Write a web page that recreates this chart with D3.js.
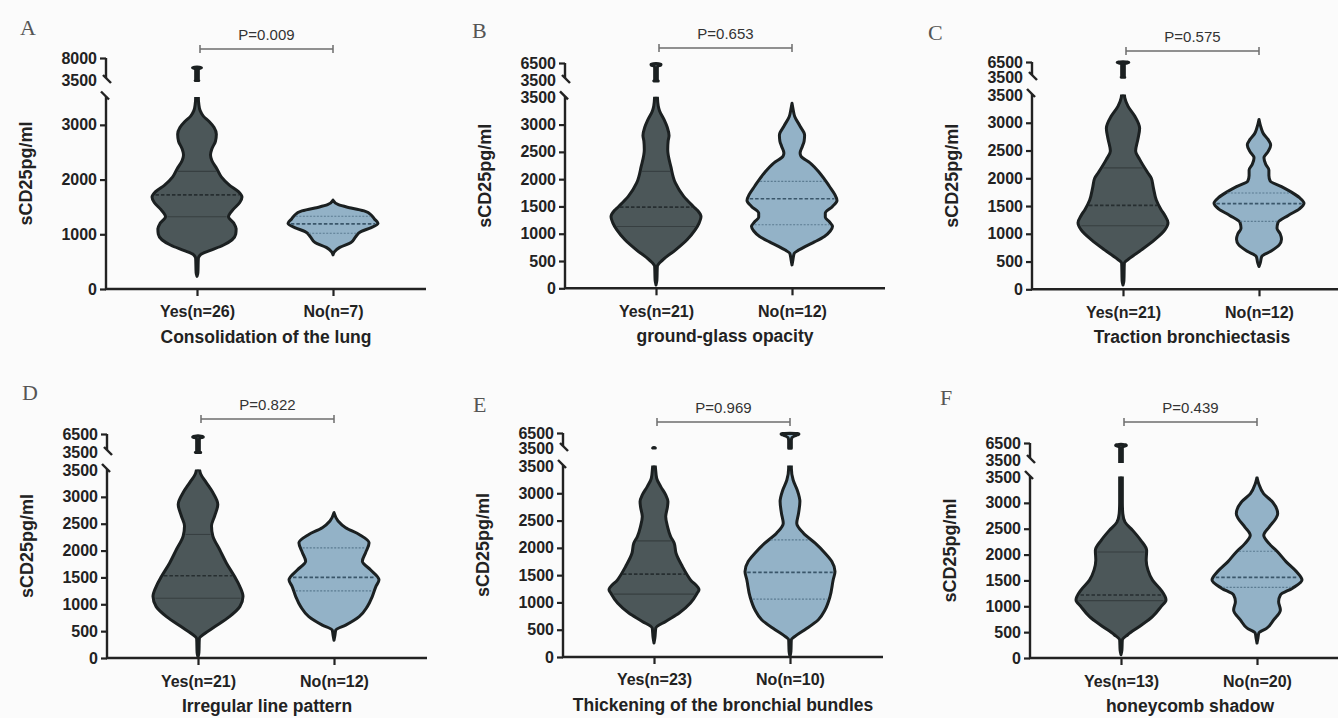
<!DOCTYPE html>
<html>
<head>
<meta charset="utf-8">
<script src="https://cdn.jsdelivr.net/npm/d3@7"></script>
<style>
  body { margin: 0; background: #fbfbfb; }
  svg { display: block; }
</style>
</head>
<body>
<svg id="chart" width="1338" height="718"></svg>
<script>
// ---- data ----
const panelLetters = ["A", "B", "C", "D", "E", "F"];
const axisTitles = ["Consolidation of the lung", "ground-glass opacity", "Traction bronchiectasis",
                    "Irregular line pattern", "Thickening of the bronchial bundles", "honeycomb shadow"];
const groupLabels = [["Yes(n=26)", "No(n=7)"], ["Yes(n=21)", "No(n=12)"], ["Yes(n=21)", "No(n=12)"],
                     ["Yes(n=21)", "No(n=12)"], ["Yes(n=23)", "No(n=10)"], ["Yes(n=13)", "No(n=20)"]];
const pLabels = ["P=0.009", "P=0.653", "P=0.575", "P=0.822", "P=0.969", "P=0.439"];
const breakValue = 3500;
const upperTops = [8000, 6500, 6500, 6500, 6500, 6500];
const lowerTicks = [
  [0, 1000, 2000, 3000],
  [0, 500, 1000, 1500, 2000, 2500, 3000, 3500],
  [0, 500, 1000, 1500, 2000, 2500, 3000, 3500],
  [0, 500, 1000, 1500, 2000, 2500, 3000, 3500],
  [0, 500, 1000, 1500, 2000, 2500, 3000, 3500],
  [0, 500, 1000, 1500, 2000, 2500, 3000, 3500]
];

// violin outlines: [sCD25 value, relative density width 0..1]
const yesProfiles = [
  [[230,0],[300,0.02],[560,0.03],[630,0.08],[700,0.28],[800,0.58],[900,0.78],[1000,0.86],[1100,0.87],[1200,0.82],[1320,0.7],[1450,0.8],[1580,0.95],[1680,1.0],[1780,0.92],[1900,0.72],[2050,0.54],[2200,0.44],[2350,0.33],[2450,0.3],[2560,0.33],[2700,0.41],[2830,0.43],[2950,0.38],[3060,0.27],[3160,0.14],[3260,0.07],[3380,0.04],[3500,0.03],[5600,0.03],[5800,0.04],[5900,0.07],[6000,0.1],[6080,0.08],[6150,0]],
  [[61,0],[150,0.02],[400,0.03],[520,0.15],[700,0.43],[890,0.69],[1070,0.87],[1200,0.96],[1310,1.0],[1420,0.93],[1500,0.83],[1680,0.62],[1930,0.43],[2230,0.33],[2540,0.26],[2700,0.27],[2800,0.29],[2950,0.25],[3090,0.18],[3250,0.08],[3340,0.05],[3520,0.03],[5700,0.03],[6000,0.06],[6150,0.11],[6300,0.11],[6400,0]],
  [[78,0],[150,0.02],[470,0.03],[560,0.15],[710,0.41],[890,0.7],[1070,0.93],[1200,1.0],[1330,0.93],[1430,0.85],[1610,0.74],[1850,0.67],[2000,0.63],[2100,0.55],[2340,0.37],[2490,0.28],[2700,0.33],[2900,0.37],[3120,0.26],[3300,0.11],[3450,0.04],[3520,0.03],[6000,0.03],[6200,0.05],[6300,0.09],[6400,0.13],[6480,0.1],[6530,0]],
  [[19,0],[100,0.02],[360,0.03],[456,0.15],[580,0.37],[770,0.7],[956,0.93],[1144,1.0],[1330,0.93],[1520,0.81],[1770,0.63],[2020,0.48],[2270,0.33],[2456,0.3],[2644,0.37],[2860,0.44],[3080,0.33],[3270,0.18],[3425,0.06],[3520,0.03],[5600,0.03],[5750,0.04],[5880,0.07],[6000,0.12],[6120,0.1],[6220,0]],
  [[256,0],[350,0.02],[530,0.04],[652,0.26],[805,0.56],[988,0.81],[1171,0.96],[1232,1.0],[1415,0.81],[1660,0.63],[1900,0.49],[2085,0.45],[2207,0.37],[2390,0.3],[2573,0.26],[2756,0.3],[2850,0.31],[2970,0.26],[3122,0.15],[3274,0.06],[3488,0.03],[3560,0.02],[3600,0]],
  [[64,0],[150,0.02],[350,0.03],[450,0.15],[610,0.41],[800,0.7],[994,0.89],[1122,1.0],[1314,0.89],[1506,0.7],[1700,0.6],[1890,0.56],[2080,0.57],[2276,0.44],[2468,0.26],[2628,0.09],[2790,0.04],[3000,0.03],[3500,0.03],[5700,0.03],[5900,0.06],[6050,0.12],[6200,0.1],[6300,0]]
];
const noProfiles = [
  [[624,0],[680,0.03],[760,0.15],[850,0.4],[950,0.5],[1050,0.62],[1120,0.85],[1200,1.0],[1280,0.92],[1350,0.85],[1420,0.72],[1480,0.4],[1540,0.12],[1624,0]],
  [[429,0],[520,0.02],[643,0.05],[700,0.15],[765,0.29],[850,0.5],[950,0.72],[1050,0.85],[1133,0.9],[1220,0.83],[1300,0.74],[1380,0.74],[1500,0.9],[1610,1.0],[1720,0.95],[1870,0.83],[2110,0.62],[2300,0.4],[2420,0.2],[2480,0.18],[2600,0.23],[2700,0.27],[2810,0.28],[2970,0.18],[3150,0.06],[3300,0.02],[3390,0]],
  [[410,0],[480,0.03],[590,0.06],[680,0.25],[800,0.45],[900,0.5],[1000,0.47],[1100,0.4],[1200,0.42],[1330,0.65],[1450,0.9],[1550,1.0],[1650,0.9],[1750,0.72],[1850,0.5],[1950,0.25],[2050,0.22],[2150,0.22],[2250,0.15],[2370,0.11],[2480,0.2],[2600,0.26],[2700,0.2],[2800,0.1],[2900,0.05],[3060,0]],
  [[331,0],[420,0.02],[520,0.04],[612,0.26],[770,0.56],[956,0.74],[1144,0.85],[1330,0.93],[1456,1.0],[1644,0.81],[1800,0.63],[1956,0.7],[2144,0.78],[2300,0.56],[2425,0.26],[2550,0.09],[2706,0]],
  [[12,0],[100,0.02],[317,0.03],[378,0.11],[500,0.33],[683,0.63],[866,0.78],[1110,0.89],[1415,0.96],[1567,1.0],[1750,0.93],[1902,0.78],[2085,0.56],[2268,0.3],[2451,0.15],[2634,0.19],[2848,0.22],[3061,0.16],[3244,0.07],[3457,0.03],[5000,0.03],[5500,0.04],[5850,0.09],[6100,0.16],[6280,0.2],[6400,0.17],[6460,0]],
  [[288,0],[380,0.02],[481,0.04],[577,0.22],[737,0.37],[929,0.52],[1090,0.48],[1218,0.52],[1346,0.78],[1506,1.0],[1667,0.88],[1859,0.65],[2051,0.46],[2212,0.27],[2372,0.15],[2532,0.27],[2700,0.42],[2788,0.46],[3013,0.35],[3173,0.15],[3365,0.04],[3494,0]]
];
// [Q1, median, Q3]
const yesQuartiles = [[1320,1720,2150],[1133,1488,2143],[1145,1512,2187],[1112,1531,2300],[1152,1518,2128],[1109,1218,2051]];
const noQuartiles  = [[1020,1190,1330],[1164,1641,1960],[1223,1542,1735],[1250,1500,2050],[1061,1549,2146],[1365,1558,2064]];

// ---- layout (pixel positions per panel) ----
const layouts = [
  {ax: 106,  y0: 289,   yBrk: 97.5, yUpB: 80,  yTop: 58,  lx: 20,  ly: 35,  pY: 49,  catPad: 10},
  {ax: 565,  y0: 288.3, yBrk: 97.3, yUpB: 80,  yTop: 63,  lx: 472, ly: 38,  pY: 48,  catPad: 10},
  {ax: 1032, y0: 289.3, yBrk: 95,   yUpB: 77,  yTop: 62,  lx: 928, ly: 40,  pY: 51,  catPad: 10},
  {ax: 107,  y0: 658,   yBrk: 470,  yUpB: 452, yTop: 434, lx: 22,  ly: 400, pY: 419, catPad: 11},
  {ax: 563,  y0: 657,   yBrk: 466,  yUpB: 448, yTop: 433, lx: 473, ly: 412, pY: 422, catPad: 10},
  {ax: 1030, y0: 658,   yBrk: 477,  yUpB: 460, yTop: 443, lx: 940, ly: 405, pY: 422, catPad: 11}
];

const darkFill = "#4c5759", lightFill = "#93b2c7", outline = "#1b2021", axisColor = "#222";
const sansFont = "'Liberation Sans', Arial, sans-serif";
const wScale = d3.scaleLinear().domain([0, 1]).range([0, 45]);
const fmt = d3.format("d");

const svg = d3.select("#chart");
svg.append("rect").attr("width", 1338).attr("height", 718).attr("fill", "#fbfbfb");
const defs = svg.append("defs");

// half width of a profile at value v (linear between read points)
function widthAt(profile, v) {
  for (let i = 1; i < profile.length; i++) {
    if (profile[i][0] >= v) {
      const a = profile[i - 1], b = profile[i];
      return a[1] + (b[1] - a[1]) * (v - a[0]) / (b[0] - a[0]);
    }
  }
  return 0;
}

function lowerPart(p) {
  const i = p.findIndex(d => d[0] > breakValue);
  return i < 0 ? p : p.slice(0, i + 1);
}
function upperPart(p) {
  if (p[p.length - 1][0] <= breakValue) return null;
  const i = p.findIndex(d => d[0] >= breakValue);
  return p.slice(Math.max(0, i - 1));
}

function styleTickText(sel) {
  sel.selectAll(".tick text").attr("fill", axisColor)
    .style("font-family", sansFont).style("font-size", "16px").style("font-weight", "bold");
}

panelLetters.forEach(function(letter, k) {
  const L = layouts[k];
  const g = svg.append("g");
  const xEnd = Math.min(L.ax + 320, 1338);

  const yLow = d3.scaleLinear().domain([0, breakValue]).range([L.y0, L.yBrk]);
  const yUp = d3.scaleLinear().domain([breakValue, upperTops[k]]).range([L.yUpB, L.yTop]);
  const x = d3.scalePoint().domain(groupLabels[k]).range([L.ax + 91, L.ax + 227]);

  // clip regions for the two axis segments
  defs.append("clipPath").attr("id", "low" + k).append("rect")
    .attr("x", L.ax + 1).attr("y", L.yBrk - 0.5).attr("width", 330).attr("height", L.y0 - L.yBrk + 8);
  defs.append("clipPath").attr("id", "up" + k).append("rect")
    .attr("x", L.ax + 1).attr("y", L.yTop - 10).attr("width", 330).attr("height", L.yUpB - L.yTop + 13);

  const groups = [
    {prof: yesProfiles[k], q: yesQuartiles[k], fill: darkFill, med: "#262e30", quart: "#373f41", qDash: null},
    {prof: noProfiles[k],  q: noQuartiles[k],  fill: lightFill, med: "#3a566a", quart: "#5b7b91", qDash: "2,1.5"}
  ];

  groups.forEach(function(gr, j) {
    const cx = x(groupLabels[k][j]);
    const makeArea = yFn => d3.area().curve(d3.curveMonotoneY)
      .y(d => yFn(d[0]))
      .x0(d => cx - wScale(d[1]))
      .x1(d => cx + wScale(d[1]));

    g.append("path")
      .attr("clip-path", "url(#low" + k + ")")
      .attr("d", makeArea(yLow)(lowerPart(gr.prof)))
      .attr("fill", gr.fill).attr("stroke", outline).attr("stroke-width", 3)
      .attr("stroke-linejoin", "round");

    const up = upperPart(gr.prof);
    if (up) {
      g.append("path")
        .attr("clip-path", "url(#up" + k + ")")
        .attr("d", makeArea(yUp)(up))
        .attr("fill", gr.fill).attr("stroke", outline).attr("stroke-width", 3)
        .attr("stroke-linejoin", "round");
    }

    // quartile and median lines
    gr.q.forEach(function(v, qi) {
      const hw = Math.max(0, wScale(widthAt(gr.prof, v)) - 2);
      const ln = g.append("line")
        .attr("x1", cx - hw).attr("x2", cx + hw)
        .attr("y1", yLow(v)).attr("y2", yLow(v));
      if (qi === 1) {
        ln.attr("stroke", gr.med).attr("stroke-width", 1.7).attr("stroke-dasharray", "3.5,2");
      } else {
        ln.attr("stroke", gr.quart).attr("stroke-width", 1.1);
        if (gr.qDash) ln.attr("stroke-dasharray", gr.qDash);
      }
    });
  });

  // ---- y axis, lower segment ----
  const yAxisLow = d3.axisLeft(yLow).tickValues(lowerTicks[k]).tickFormat(fmt).tickSize(6).tickPadding(3);
  const gyl = g.append("g").attr("transform", "translate(" + L.ax + ",0)").call(yAxisLow);
  gyl.select(".domain").remove();
  gyl.selectAll(".tick line").attr("stroke", axisColor).attr("stroke-width", 2.2)
    .filter(d => d === breakValue).remove();
  styleTickText(gyl);

  // ---- y axis, upper segment ----
  const yAxisUp = d3.axisLeft(yUp).tickValues([breakValue, upperTops[k]]).tickFormat(fmt).tickSize(6).tickPadding(3);
  const gyu = g.append("g").attr("transform", "translate(" + L.ax + ",0)").call(yAxisUp);
  gyu.select(".domain").remove();
  gyu.selectAll(".tick line").attr("stroke", axisColor).attr("stroke-width", 2.2)
    .filter(d => d === breakValue).remove();
  styleTickText(gyu);

  // axis lines with break marks
  const axisLines = [
    [[L.ax, L.yTop], [L.ax, L.yUpB - 2]],
    [[L.ax - 3, L.yUpB - 5], [L.ax + 5, L.yUpB + 3]],
    [[L.ax - 5, L.yBrk - 6], [L.ax + 3, L.yBrk + 2]],
    [[L.ax, L.yBrk - 1], [L.ax, L.y0]],
    [[L.ax - 1, L.y0], [xEnd, L.y0]]
  ];
  axisLines.forEach(function(seg) {
    g.append("path").attr("d", d3.line()(seg))
      .attr("stroke", axisColor).attr("stroke-width", 2.4).attr("fill", "none");
  });

  // ---- x axis ----
  const xAxis = d3.axisBottom(x).tickSize(7).tickPadding(L.catPad);
  const gx = g.append("g").attr("transform", "translate(0," + L.y0 + ")").call(xAxis);
  gx.select(".domain").remove();
  gx.selectAll(".tick line").attr("stroke", axisColor).attr("stroke-width", 2.2);
  styleTickText(gx);

  // axis titles
  g.append("text")
    .attr("x", L.ax + 160).attr("y", L.y0 + 54)
    .attr("text-anchor", "middle").attr("fill", axisColor)
    .style("font-family", sansFont).style("font-size", "17.5px").style("font-weight", "bold")
    .text(axisTitles[k]);

  g.append("text")
    .attr("transform", "translate(" + (L.ax - 74) + "," + ((L.yTop + L.y0) / 2) + ") rotate(-90)")
    .attr("text-anchor", "middle").attr("fill", axisColor)
    .style("font-family", sansFont).style("font-size", "18px").style("font-weight", "bold")
    .text("sCD25pg/ml");

  // panel letter
  g.append("text").attr("x", L.lx).attr("y", L.ly).attr("fill", "#555")
    .style("font-family", "'Liberation Serif', serif").style("font-size", "22px")
    .text(letter);

  // significance bracket
  const bx1 = x(groupLabels[k][0]) + 3, bx2 = x(groupLabels[k][1]);
  g.append("path")
    .attr("d", "M" + bx1 + "," + (L.pY - 4) + "V" + (L.pY + 4) + "M" + bx1 + "," + L.pY +
               "H" + bx2 + "M" + bx2 + "," + (L.pY - 4) + "V" + (L.pY + 4))
    .attr("stroke", "#6e6e6e").attr("stroke-width", 1.5).attr("fill", "none");
  g.append("text")
    .attr("x", (bx1 + bx2) / 2).attr("y", L.pY - 9)
    .attr("text-anchor", "middle").attr("fill", "#333")
    .style("font-family", sansFont).style("font-size", "15px")
    .text(pLabels[k]);
});
</script>
</body>
</html>
